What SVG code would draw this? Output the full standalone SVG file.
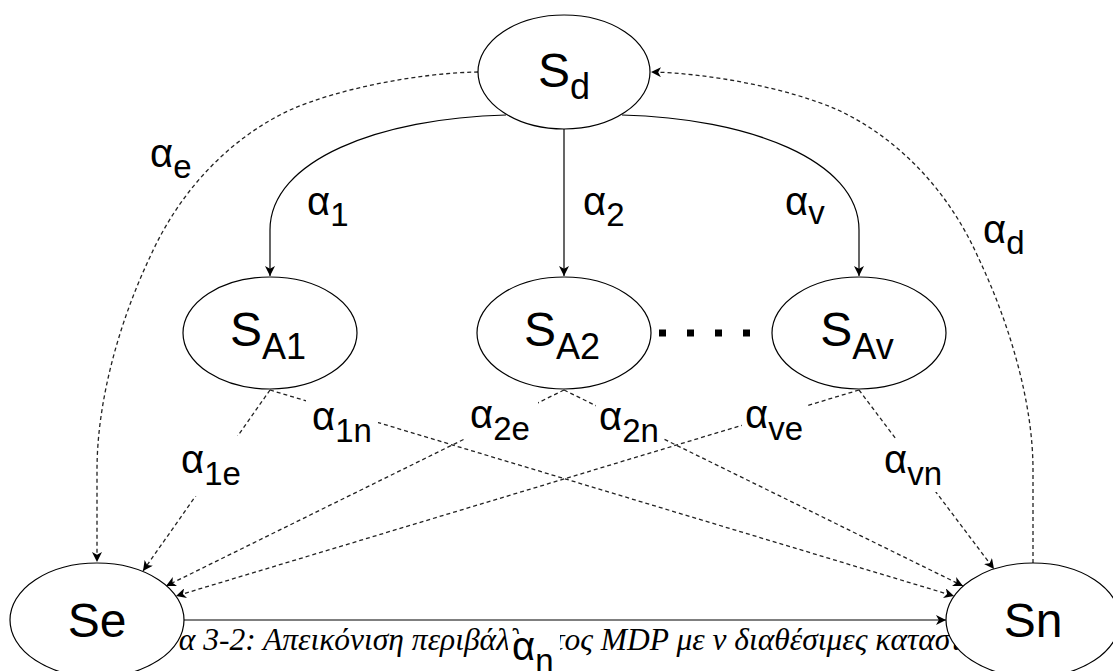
<svg xmlns="http://www.w3.org/2000/svg" width="1113" height="671" viewBox="0 0 1113 671">
  <defs>
    <style>
      .caption { font-family: "Liberation Serif", "Times New Roman", serif; font-style: italic; font-size: 31.5px; fill: #000; }
      .edge { fill: none; stroke: #000; stroke-width: 1.2; }
      .dash { stroke-dasharray: 4 3; stroke: #222; stroke-width: 1.3; }
      .state { fill: #fff; stroke: #000; stroke-width: 1.2; }
      .name { font-family: "Liberation Sans", Arial, sans-serif; font-size: 48px; fill: #000; text-anchor: middle; }
      .name .sub { font-size: 36px; }
      .act { font-family: "Liberation Sans", Arial, sans-serif; font-size: 40px; fill: #000; }
      .act .sub { font-size: 33px; }
      .bg { fill: #fff; }
    </style>
    <marker id="arrow" markerUnits="userSpaceOnUse" markerWidth="11" markerHeight="10" refX="10" refY="5" orient="auto">
      <path d="M0,0 L10,5 L0,10 L2.8,5 Z" fill="#000" stroke="none"/>
    </marker>
  </defs>

  <rect width="1113" height="671" fill="#fff"/>

  <!-- figure caption, partly hidden behind the end states -->
  <text class="caption" x="106" y="650">Εικόνα 3-2: Απεικόνιση περιβάλλοντος MDP με ν διαθέσιμες καταστάσεις</text>

  <g id="connectors">
    <!-- decision state to the action states -->
    <path class="edge" d="M506,115 C380,118 270,160 270,230 L270,276" marker-end="url(#arrow)"/>
    <path class="edge" d="M564,129 L564,276" marker-end="url(#arrow)"/>
    <path class="edge" d="M622,115 C748,118 859,160 859,230 L859,276" marker-end="url(#arrow)"/>
    <!-- decision state to Se, Sn back to decision state -->
    <path class="edge dash" d="M478,72 C420,73 340,88 290,110 C230,138 180,190 150,257 C120,320 97,400 97,470 L97,562" marker-end="url(#arrow)"/>
    <path class="edge dash" d="M1033,563 L1033,470 C1033,400 1008,320 978,257 C948,190 898,138 838,110 C788,88 708,73 651,72" marker-end="url(#arrow)"/>
    <!-- action states to Se / Sn -->
    <path class="edge dash" d="M270,390 L143,571" marker-end="url(#arrow)"/>
    <path class="edge dash" d="M270,390 L954,596" marker-end="url(#arrow)"/>
    <path class="edge dash" d="M564,390 L166,586" marker-end="url(#arrow)"/>
    <path class="edge dash" d="M564,390 L963,586" marker-end="url(#arrow)"/>
    <path class="edge dash" d="M859,390 L176,596" marker-end="url(#arrow)"/>
    <path class="edge dash" d="M859,390 L994,569" marker-end="url(#arrow)"/>
    <!-- Se to Sn -->
    <path class="edge" d="M183,620 L946,620" marker-end="url(#arrow)"/>
  </g>

  <g id="edge-labels">
    <text class="act" x="150" y="167">α<tspan class="sub" dy="11">e</tspan></text>
    <text class="act" x="307" y="215">α<tspan class="sub" dy="11">1</tspan></text>
    <text class="act" x="583" y="215">α<tspan class="sub" dy="11">2</tspan></text>
    <text class="act" x="785" y="215">α<tspan class="sub" dy="9">v</tspan></text>
    <text class="act" x="983" y="243">α<tspan class="sub" dy="11">d</tspan></text>

    <rect class="bg" x="306" y="398" width="72" height="50"/>
    <text class="act" x="312" y="430">α<tspan class="sub" dy="12">1n</tspan></text>
    <rect class="bg" x="466" y="398" width="72" height="50"/>
    <text class="act" x="470" y="428">α<tspan class="sub" dy="12">2e</tspan></text>
    <rect class="bg" x="596" y="398" width="66" height="50"/>
    <text class="act" x="599" y="430">α<tspan class="sub" dy="12">2n</tspan></text>
    <rect class="bg" x="742" y="398" width="64" height="50"/>
    <text class="act" x="745" y="428">α<tspan class="sub" dy="12">ve</tspan></text>
    <rect class="bg" x="178" y="436" width="82" height="60"/>
    <text class="act" x="181" y="473">α<tspan class="sub" dy="12">1e</tspan></text>
    <rect class="bg" x="880" y="440" width="70" height="52"/>
    <text class="act" x="884" y="473">α<tspan class="sub" dy="12">vn</tspan></text>
    <rect class="bg" x="508" y="634" width="52" height="37"/>
    <text class="act" x="512" y="660">α<tspan class="sub" dy="12">n</tspan></text>
  </g>

  <!-- ellipsis between the second and the last action state -->
  <line x1="659" y1="333" x2="752" y2="333" stroke="#000" stroke-width="7" stroke-dasharray="7 21"/>

  <g id="node-Sd">
    <ellipse class="state" cx="564" cy="72" rx="86" ry="57"/>
    <text class="name" x="564" y="87">S<tspan class="sub" dy="12">d</tspan></text>
  </g>
  <g id="node-SA1">
    <ellipse class="state" cx="270" cy="333" rx="87" ry="56"/>
    <text class="name" x="268" y="346">S<tspan class="sub" dy="13">A1</tspan></text>
  </g>
  <g id="node-SA2">
    <ellipse class="state" cx="564" cy="333" rx="87" ry="56"/>
    <text class="name" x="562" y="346">S<tspan class="sub" dy="13">A2</tspan></text>
  </g>
  <g id="node-SAv">
    <ellipse class="state" cx="859" cy="333" rx="87" ry="56"/>
    <text class="name" x="857" y="346">S<tspan class="sub" dy="13">Av</tspan></text>
  </g>
  <g id="node-Se">
    <ellipse class="state" cx="97" cy="620" rx="87" ry="57"/>
    <text class="name" x="97" y="637">Se</text>
  </g>
  <g id="node-Sn">
    <ellipse class="state" cx="1033" cy="620" rx="87" ry="57"/>
    <text class="name" x="1033" y="637">Sn</text>
  </g>
</svg>
